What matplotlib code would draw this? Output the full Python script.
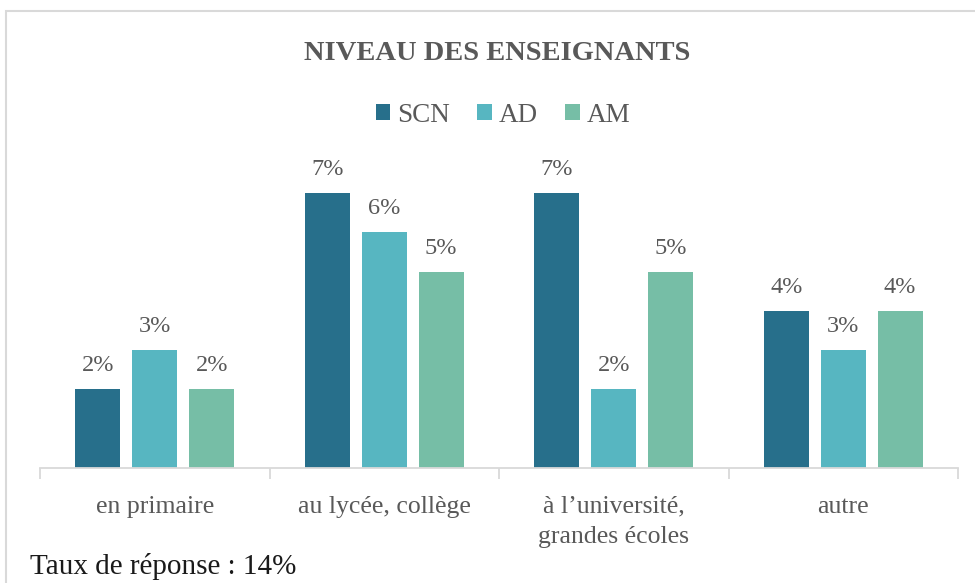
import matplotlib
matplotlib.use("Agg")
import matplotlib.pyplot as plt
import numpy as np

categories = ["en primaire", "au lycée, collège", "à l\u2019université,\ngrandes écoles", "autre"]
series_names = ["SCN", "AD", "AM"]
scn = [2, 7, 7, 4]
ad = [3, 6, 2, 3]
am = [2, 5, 5, 4]
colors = ["#276F8B", "#57B6C1", "#76BEA6"]

FONT = "Liberation Serif"
TXT = "#595959"

fig = plt.figure(figsize=(9.75, 5.83), dpi=100)
ax = fig.add_axes([40/975, 1 - 468/583, (958-40)/975, (468-153.6)/583])

x = np.arange(len(categories))
w = 0.196
off = 0.248
for i, (vals, c, name) in enumerate(zip([scn, ad, am], colors, series_names)):
    pos = x + (i - 1) * off
    bars = ax.bar(pos, vals, width=w, color=c, label=name)
    for p, v in zip(pos, vals):
        ax.text(p, v + 0.33, f"{v}%", ha="center", va="bottom", family=FONT,
                fontsize=17.5, color=TXT)

ax.set_xlim(-0.5, len(categories) - 0.5)
ax.set_ylim(0, 8)
for s in ["top", "right", "left"]:
    ax.spines[s].set_visible(False)
ax.spines["bottom"].set_color("#D9D9D9")
ax.spines["bottom"].set_linewidth(1.3)
ax.set_yticks([])
ax.set_xticks(np.arange(-0.5, len(categories), 1.0))
ax.set_xticklabels([])
ax.tick_params(axis="x", length=8, color="#D9D9D9", width=1.3)
for xi, lab in zip(x, categories):
    ax.text(xi, -0.7, lab, ha="center", va="top", family=FONT, fontsize=18.5,
            color=TXT, linespacing=1.5)

fig.text(497/975, 1 - 53/583, "NIVEAU DES ENSEIGNANTS", ha="center", va="center",
         family=FONT, fontsize=20.5, fontweight="bold", color=TXT)

leg = fig.legend(loc="center", bbox_to_anchor=(503/975, 1 - 115/583), ncol=3,
                 frameon=False, prop={"family": FONT, "size": 19.5},
                 handlelength=0.55, handleheight=0.55, handletextpad=0.25,
                 columnspacing=1.0, labelcolor=TXT)

fig.text(30/975, 1 - 566/583, "Taux de réponse : 14%", ha="left", va="center",
         family=FONT, fontsize=21, color="#1a1a1a")

# outer chart frame
fig.patches.append(matplotlib.patches.Rectangle((6/975, -0.05), 1.1, 1 - 11/583 + 0.05,
                   transform=fig.transFigure, fill=False, edgecolor="#D9D9D9",
                   linewidth=1.5))

fig.savefig("out.png", dpi=100)
